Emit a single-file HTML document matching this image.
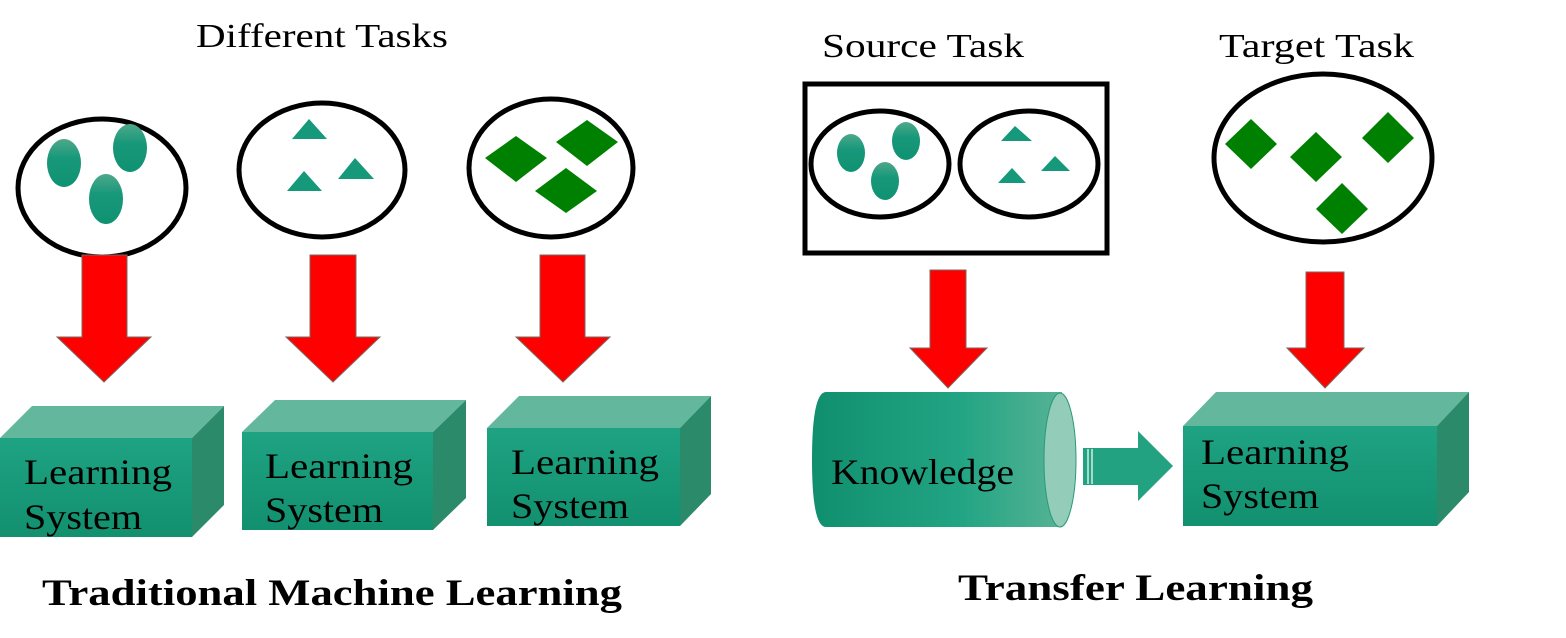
<!DOCTYPE html>
<html><head><meta charset="utf-8"><style>
html,body{margin:0;padding:0;background:#fff;width:1566px;height:638px;overflow:hidden}
svg{display:block}
text{font-family:"Liberation Serif",serif}
</style></head><body>
<svg width="1566" height="638" viewBox="0 0 1566 638" xmlns="http://www.w3.org/2000/svg">
<defs>
<linearGradient id="ov" x1="0" y1="0" x2="0" y2="1"><stop offset="0" stop-color="#4fa88a"/><stop offset="0.4" stop-color="#17987a"/><stop offset="1" stop-color="#0f9272"/></linearGradient>
<linearGradient id="front" x1="0" y1="0" x2="0" y2="1"><stop offset="0" stop-color="#1ea382"/><stop offset="1" stop-color="#12906f"/></linearGradient>
<linearGradient id="cyl" x1="0" y1="0" x2="1" y2="0"><stop offset="0" stop-color="#108f6e"/><stop offset="0.6" stop-color="#22a584"/><stop offset="1" stop-color="#56b294"/></linearGradient>
</defs>
<g fill="none" stroke="#000" stroke-width="5">
<ellipse cx="102" cy="188" rx="84" ry="69"/>
<ellipse cx="322" cy="170" rx="83" ry="67"/>
<ellipse cx="551" cy="168" rx="82" ry="69"/>
<rect x="805" y="84" width="302" height="169"/>
<ellipse cx="880" cy="164" rx="69" ry="53"/>
<ellipse cx="1029" cy="164" rx="69" ry="53"/>
<ellipse cx="1323" cy="158" rx="109" ry="84"/>
</g>
<g fill="url(#ov)">
<ellipse cx="64" cy="163" rx="17" ry="24"/>
<ellipse cx="130" cy="148" rx="17" ry="24"/>
<ellipse cx="106" cy="199" rx="17" ry="25"/>
<ellipse cx="851" cy="153" rx="14" ry="19"/>
<ellipse cx="906" cy="141" rx="14" ry="19"/>
<ellipse cx="885" cy="181" rx="14" ry="19"/>
</g>
<g fill="#16987a">
<polygon points="309,119 292,139 327,139"/>
<polygon points="304,171 287,191 322,191"/>
<polygon points="355,158 338,179 374,179"/>
<polygon points="1015,126 1001,141 1032,141"/>
<polygon points="1012,168 998,183 1026,183"/>
<polygon points="1055,156 1041,171 1070,171"/>
</g>
<g fill="#008000">
<polygon points="516,136 547,158 516,182 485,158"/>
<polygon points="587,120 618,142 587,166 556,142"/>
<polygon points="566,168 597,191 566,213 535,191"/>
<polygon points="1251,119 1277,144 1251,169 1225,144"/>
<polygon points="1316,132 1342,157 1316,182 1290,157"/>
<polygon points="1388,112 1414,138 1388,163 1362,138"/>
<polygon points="1342,183 1368,209 1342,234 1316,209"/>
</g>
<g fill="#ff0000" stroke="#7a6a60" stroke-width="1">
<polygon points="82,255 127,255 127,337 151,337 104,382 57,337 82,337"/>
<polygon points="310,255 356,255 356,337 380,337 333,382 286,337 310,337"/>
<polygon points="540,255 585,255 585,337 610,337 563,382 516,337 540,337"/>
<polygon points="930,270 966,270 966,348 987,348 948,388 910,348 930,348"/>
<polygon points="1306,272 1344,272 1344,348 1364,348 1325,388 1287,348 1306,348"/>
</g>
<g>
<polygon points="0,438 32,406 224,406 192,438" fill="#63b79c"/>
<polygon points="192,438 224,406 224,505 192,537" fill="#2a8a6a"/>
<rect x="0" y="438" width="192" height="99" fill="url(#front)"/>
<polygon points="242,432 275,400 466,400 433,432" fill="#63b79c"/>
<polygon points="433,432 466,400 466,498 433,530" fill="#2a8a6a"/>
<rect x="242" y="432" width="191" height="98" fill="url(#front)"/>
<polygon points="487,428 519,396 711,396 680,428" fill="#63b79c"/>
<polygon points="680,428 711,396 711,494 680,526" fill="#2a8a6a"/>
<rect x="487" y="428" width="193" height="98" fill="url(#front)"/>
<polygon points="1183,426 1216,392 1469,392 1437,426" fill="#63b79c"/>
<polygon points="1437,426 1469,392 1469,492 1437,526" fill="#2a8a6a"/>
<rect x="1183" y="426" width="254" height="100" fill="url(#front)"/>
</g>
<path d="M826,392 L1062,392 L1062,527 L826,527 Q812,527 812,460 Q812,392 826,392 Z" fill="url(#cyl)"/>
<ellipse cx="1060" cy="460" rx="16" ry="67" fill="#93ccb9" stroke="#2a9a7a" stroke-width="1"/>
<polygon points="1083,448 1138,448 1138,431 1173,466 1138,501 1138,485 1083,485" fill="#23a282"/>
<g stroke="#fff" stroke-width="1.2"><line x1="1088" y1="449" x2="1088" y2="484"/><line x1="1092" y1="449" x2="1092" y2="484"/></g>
<g font-size="36" fill="#000" lengthAdjust="spacingAndGlyphs">
<text x="24" y="484" textLength="148" lengthAdjust="spacingAndGlyphs">Learning</text><text x="24" y="529" textLength="118" lengthAdjust="spacingAndGlyphs">System</text>
<text x="265" y="478" textLength="148" lengthAdjust="spacingAndGlyphs">Learning</text><text x="265" y="522" textLength="118" lengthAdjust="spacingAndGlyphs">System</text>
<text x="511" y="474" textLength="148" lengthAdjust="spacingAndGlyphs">Learning</text><text x="511" y="518" textLength="118" lengthAdjust="spacingAndGlyphs">System</text>
<text x="1201" y="464" textLength="148" lengthAdjust="spacingAndGlyphs">Learning</text><text x="1201" y="508" textLength="118" lengthAdjust="spacingAndGlyphs">System</text>
<text x="831" y="484" textLength="183" lengthAdjust="spacingAndGlyphs">Knowledge</text>
<text x="196" y="47" font-size="34" textLength="252" lengthAdjust="spacingAndGlyphs">Different Tasks</text>
<text x="822" y="57" font-size="34" textLength="202" lengthAdjust="spacingAndGlyphs">Source Task</text>
<text x="1219" y="57" font-size="34" textLength="195" lengthAdjust="spacingAndGlyphs">Target Task</text>
<text x="42" y="605" font-size="37" font-weight="bold" textLength="580" lengthAdjust="spacingAndGlyphs">Traditional Machine Learning</text>
<text x="958" y="600" font-size="37" font-weight="bold" textLength="355" lengthAdjust="spacingAndGlyphs">Transfer Learning</text>
</g>
</svg>
</body></html>
